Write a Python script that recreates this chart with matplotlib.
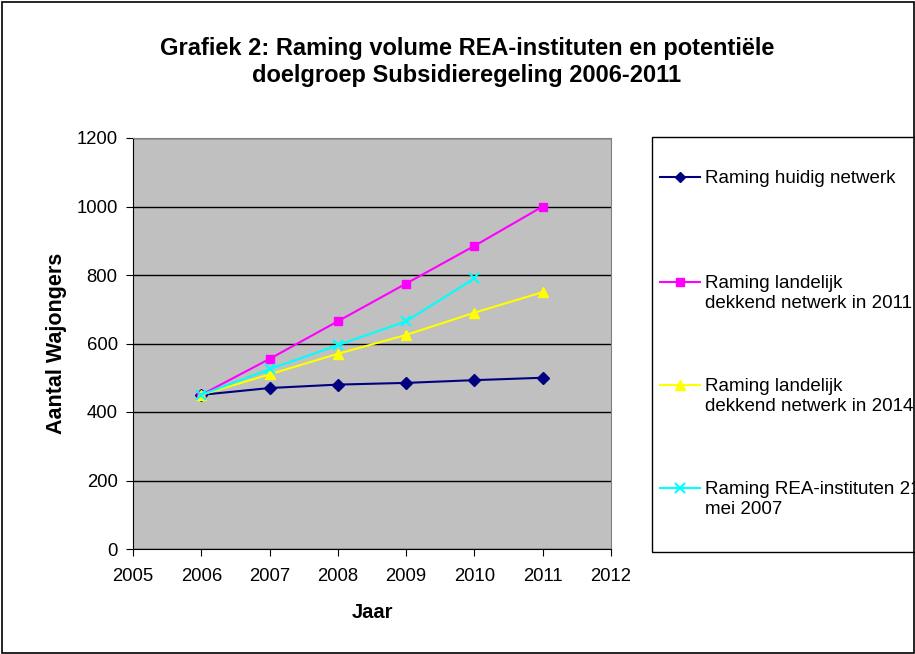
import matplotlib
matplotlib.use("Agg")
import matplotlib.pyplot as plt
from matplotlib.lines import Line2D
from matplotlib.patches import Rectangle

plt.rcParams["font.family"] = ["Liberation Sans", "DejaVu Sans"]

# Data
years = [2006, 2007, 2008, 2009, 2010, 2011]
huidig = [450, 470, 480, 485, 493, 500]
landelijk_2011 = [450, 555, 665, 775, 885, 1000]
landelijk_2014 = [450, 510, 570, 625, 690, 750]
rea_years = [2006, 2007, 2008, 2009, 2010]
rea_instituten = [450, 525, 595, 665, 790]

labels = ["Raming huidig netwerk",
          "Raming landelijk\ndekkend netwerk in 2011",
          "Raming landelijk\ndekkend netwerk in 2014",
          "Raming REA-instituten 21\nmei 2007"]

W, H = 915, 654
fig = plt.figure(figsize=(W / 100, H / 100), dpi=100)
ax = fig.add_axes([133 / W, 1 - 549 / H, (611 - 133) / W, (549 - 138) / H])
ax.set_facecolor("#C0C0C0")

styles = [
    dict(color="#000080", marker="D", markersize=6),
    dict(color="#FF00FF", marker="s", markersize=6),
    dict(color="#FFFF00", marker="^", markersize=7),
    dict(color="#00FFFF", marker="x", markersize=7, markeredgewidth=1.5),
]
series = [(years, huidig), (years, landelijk_2011), (years, landelijk_2014),
          (rea_years, rea_instituten)]
for (xs, ys), st in zip(series, styles):
    ax.plot(xs, ys, linewidth=1.5, zorder=3, **st)

ax.set_xlim(2005, 2012)
ax.set_ylim(0, 1200)
ax.set_xticks(range(2005, 2013))
ax.set_yticks(range(0, 1201, 200))
ax.yaxis.grid(True, color="black", linewidth=1)
ax.set_axisbelow(True)
ax.tick_params(labelsize=13.3, direction="out", length=5, color="black")
ax.tick_params(axis="x", pad=9)
ax.tick_params(axis="y", pad=6)
for s in ["top", "right"]:
    ax.spines[s].set_color("#808080")
for s in ["left", "bottom"]:
    ax.spines[s].set_color("black")

ax.set_xlabel("Jaar", fontsize=14.5, fontweight="bold", labelpad=13)
ax.set_ylabel("Aantal Wajongers", fontsize=15.5, fontweight="bold", labelpad=7)

fig.suptitle("Grafiek 2: Raming volume REA-instituten en potentiële\n"
             "doelgroep Subsidieregeling 2006-2011",
             x=467 / W, y=1 - 37 / H, fontsize=17, fontweight="bold",
             va="top", linespacing=1.2)

# legend box, drawn by hand so the marker sits at the first text line
fig.add_artist(Rectangle((652 / W, 1 - 552 / H), 300 / W, (552 - 137) / H,
                         transform=fig.transFigure, facecolor="white",
                         edgecolor="black", linewidth=1))
rows = [177, 282, 385, 488]
for y, st, lab in zip(rows, styles, labels):
    yf = 1 - y / H
    fig.add_artist(Line2D([660 / W, 680 / W, 700 / W], [yf, yf, yf],
                          transform=fig.transFigure, linewidth=1.5, markevery=[1],
                          **{**st, "markersize": st["markersize"] - 0.5}))
    fig.text(705 / W, 1 - (y - 7) / H, lab, fontsize=13.5, va="top", ha="left",
             linespacing=1.2, transform=fig.transFigure)

# outer chart border
fig.add_artist(Rectangle((1.5 / W, 1.5 / H), (W - 3) / W, (H - 3) / H,
                         transform=fig.transFigure, fill=False,
                         edgecolor="black", linewidth=1.2))

fig.savefig("out.png", dpi=100)
